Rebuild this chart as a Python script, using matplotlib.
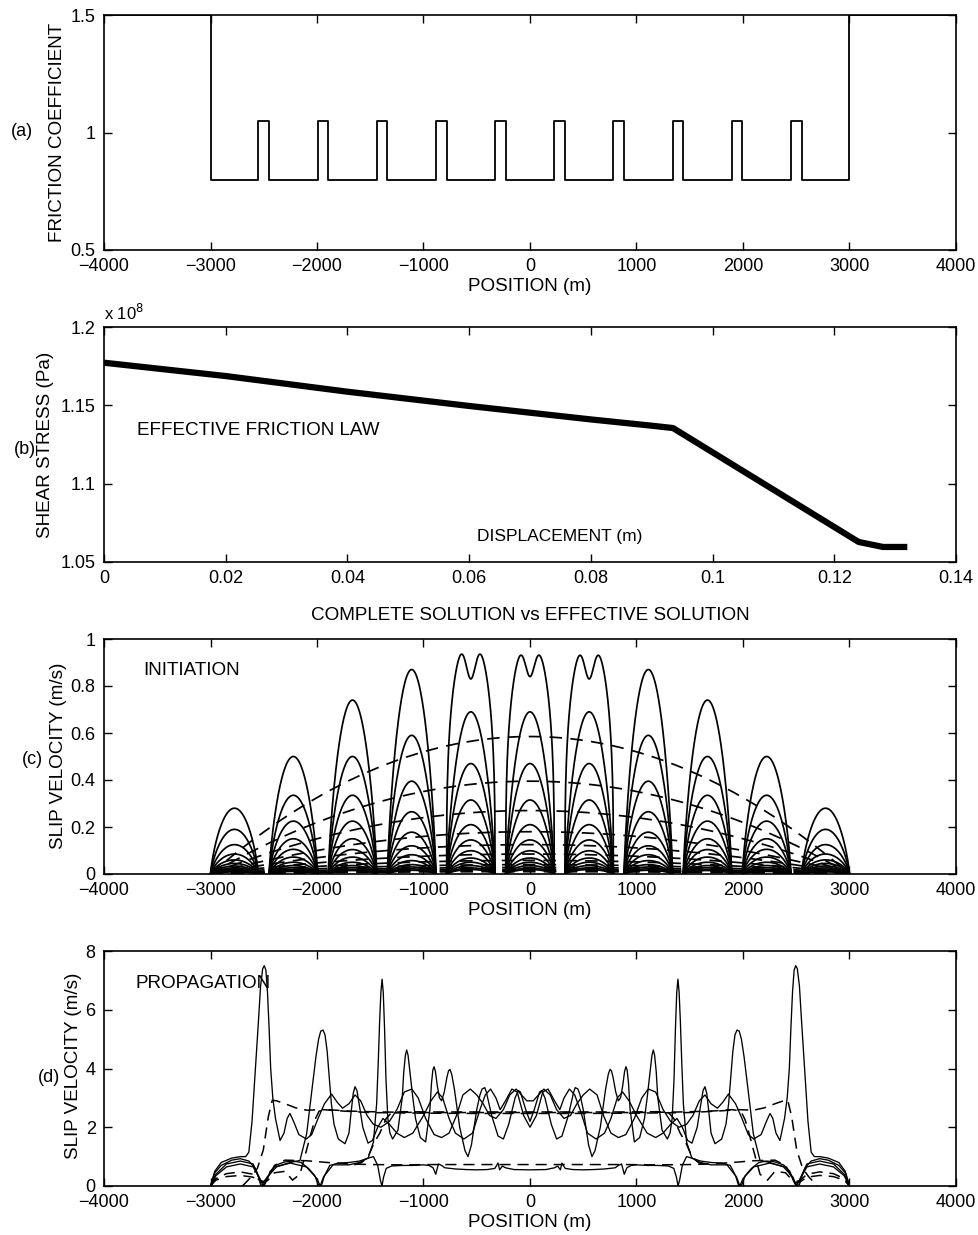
import numpy as np
import matplotlib
matplotlib.use("Agg")
import matplotlib.pyplot as plt

plt.rcParams['font.family'] = ['Liberation Sans', 'DejaVu Sans']
plt.rcParams['lines.scale_dashes'] = False
plt.rcParams['axes.linewidth'] = 1.2

FS = 13
FSL = 13.6

# ---------------- data ----------------
# (a) friction coefficient
POS_TICKS = [-4000, -3000, -2000, -1000, 0, 1000, 2000, 3000, 4000]
FAULT_EDGES = [-3000, 3000]
BUMP_CENTERS = [-2500, -1944, -1389, -833, -278, 278, 833, 1389, 1944, 2500]
BUMP_WIDTH = 100
MU_BASE = 0.8
MU_BUMP = 1.05
MU_OUT = 1.5

# (b) effective friction law
B_DISP = [0.0, 0.02, 0.04, 0.06, 0.08, 0.09, 0.0935, 0.124, 0.128, 0.132]
B_STRESS = [1.1772, 1.1687, 1.1587, 1.1496, 1.1410, 1.1370, 1.1355, 1.0628, 1.0596, 1.0596]  # x 1e8 Pa
B_XTICKS = [0, 0.02, 0.04, 0.06, 0.08, 0.1, 0.12, 0.14]
B_XLABELS = ['0', '0.02', '0.04', '0.06', '0.08', '0.1', '0.12', '0.14']
B_YTICKS = [1.05, 1.1, 1.15, 1.2]
B_YLABELS = ['1.05', '1.1', '1.15', '1.2']

# (c) initiation: peak slip velocity of each snapshot on each of the 11 patches
C_SOLID_PEAKS = [
    [0.28, 0.50, 0.74, 0.87, 0.935, 0.93, 0.93, 0.87, 0.74, 0.50, 0.28],
    [0.19, 0.335, 0.50, 0.59, 0.69, 0.69, 0.69, 0.59, 0.50, 0.335, 0.19],
    [0.125, 0.225, 0.335, 0.395, 0.47, 0.47, 0.47, 0.395, 0.335, 0.225, 0.125],
    [0.085, 0.15, 0.225, 0.265, 0.315, 0.315, 0.315, 0.265, 0.225, 0.15, 0.085],
    [0.06, 0.105, 0.15, 0.178, 0.21, 0.21, 0.21, 0.178, 0.15, 0.105, 0.06],
    [0.045, 0.072, 0.104, 0.12, 0.145, 0.145, 0.145, 0.12, 0.104, 0.072, 0.045],
    [0.034, 0.05, 0.072, 0.082, 0.099, 0.099, 0.099, 0.082, 0.072, 0.05, 0.034],
    [0.026, 0.036, 0.05, 0.057, 0.068, 0.068, 0.068, 0.057, 0.05, 0.036, 0.026],
    [0.02, 0.027, 0.036, 0.04, 0.05, 0.05, 0.05, 0.04, 0.036, 0.027, 0.02],
    [0.016, 0.02, 0.027, 0.03, 0.036, 0.036, 0.036, 0.03, 0.027, 0.02, 0.016],
    [0.012, 0.015, 0.02, 0.022, 0.026, 0.026, 0.026, 0.022, 0.02, 0.015, 0.012],
    [0.009, 0.011, 0.015, 0.016, 0.019, 0.019, 0.019, 0.016, 0.015, 0.011, 0.009],
]
C_DOUBLE_PATCHES = [4, 5, 6]          # patches whose last snapshot is double-peaked
C_DIP_VALUES = [0.83, 0.84, 0.83]     # central dip of those snapshots
C_DASHED_PEAKS = [0.585, 0.395, 0.27, 0.18, 0.125, 0.085, 0.058, 0.04, 0.028, 0.02, 0.014, 0.01]
C_YTICKS = [0, 0.2, 0.4, 0.6, 0.8, 1]
C_YLABELS = ['0', '0.2', '0.4', '0.6', '0.8', '1']

# (d) propagation: left half (x <= 0) of each symmetric snapshot
D_SOLID = [
    ([-3000, -2960, -2900, -2800, -2720, -2640, -2580, -2550, -2530, -2500, -2470, -2440, -2380, -2300,
      -2220, -2150, -2080, -2020, -1990, -1960, -1930, -1880, -1800, -1700, -1600, -1520, -1470, -1430,
      -1405, -1390, -1375, -1350, -1300, -1200, -1100, -1000, -950, -910, -885, -860, -830, -800, -700,
      -600, -500, -400, -330, -300, -285, -260, -230, -150, 0],
     [0, 0.45, 0.7, 0.88, 0.93, 0.85, 0.6, 0.3, 0.05, 0, 0.2, 0.5, 0.72, 0.82, 0.85, 0.8, 0.6, 0.35,
      0.05, 0, 0.35, 0.7, 0.78, 0.8, 0.85, 0.95, 1.0, 0.7, 0.2, 0, 0.3, 0.6, 0.68, 0.7, 0.7, 0.72, 0.7,
      0.62, 0.4, 0.75, 0.7, 0.62, 0.58, 0.56, 0.55, 0.56, 0.6, 0.78, 0.55, 0.68, 0.62, 0.56, 0.55]),
    ([-3000, -2950, -2850, -2720, -2600, -2530, -2500, -2470, -2400, -2250, -2100, -2000, -1970, -1940,
      -1850, -1700, -1600, -1520, -1470, -1440, -1425, -1412, -1400, -1389, -1378, -1366, -1352, -1335,
      -1315, -1290, -1240, -1200, -1185, -1170, -1158, -1145, -1125, -1100, -1075, -1030, -980, -940,
      -925, -912, -901, -888, -870, -850, -830, -805, -780, -765, -751, -735, -710, -660, -610, -582,
      -550, -500, -470, -450, -425, -410, -360, -300, -250, -200, -160, -140, -110, -90, -40, 0],
     [0, 0.4, 0.75, 0.85, 0.75, 0.2, 0, 0.25, 0.65, 0.78, 0.65, 0.25, 0, 0.3, 0.72, 0.72, 0.8, 0.95,
      1.5, 2.8, 4.2, 5.6, 6.6, 7.04, 6.6, 5.4, 3.6, 2.3, 1.8, 1.6, 1.9, 3.0, 3.9, 4.45, 4.63, 4.45, 3.8,
      3.0, 2.3, 1.65, 1.5, 2.6, 3.5, 3.95, 4.06, 3.9, 3.4, 3.0, 2.9, 3.2, 3.7, 3.92, 3.97, 3.8, 3.3,
      2.0, 1.2, 1.0, 1.4, 2.6, 3.1, 3.3, 3.35, 3.2, 2.4, 1.7, 1.6, 2.1, 2.7, 3.0, 3.25, 3.2, 2.6, 2.2]),
    ([-3000, -2950, -2850, -2720, -2600, -2530, -2500, -2470, -2380, -2250, -2160, -2097, -2050, -2010,
      -1985, -1965, -1944, -1925, -1905, -1885, -1865, -1840, -1800, -1737, -1700, -1680, -1660, -1643,
      -1625, -1600, -1570, -1521, -1480, -1430, -1380, -1320, -1250, -1180, -1100, -1000, -930, -870,
      -820, -760, -700, -620, -540, -470, -420, -370, -320, -280, -230, -170, -120, -60, 0],
     [0, 0.35, 0.65, 0.75, 0.65, 0.2, 0, 0.3, 0.65, 0.8, 0.87, 1.78, 3.2, 4.4, 5.0, 5.27, 5.31, 5.15,
      4.6, 3.7, 2.8, 2.1, 1.6, 1.44, 1.8, 2.5, 3.15, 3.38, 3.25, 2.7, 2.0, 1.46, 1.55, 2.0, 2.3, 2.1,
      1.8, 1.65, 1.8, 2.4, 2.9, 3.2, 3.0, 2.3, 1.8, 1.6, 1.8, 2.6, 3.1, 3.3, 3.0, 2.6, 2.9, 3.3, 3.2,
      2.4, 2.0]),
    ([-3000, -2960, -2900, -2800, -2720, -2670, -2640, -2610, -2580, -2550, -2530, -2510, -2495, -2480,
      -2465, -2450, -2435, -2415, -2390, -2347, -2310, -2280, -2254, -2220, -2170, -2100, -2050, -1990,
      -1930, -1863, -1810, -1760, -1700, -1643, -1590, -1530, -1470, -1400, -1320, -1250, -1180, -1110,
      -1050, -980, -900, -830, -760, -690, -630, -560, -500, -440, -380, -320, -250, -190, -130, -80,
      -30, 0],
     [0, 0.5, 0.8, 0.95, 1.0, 1.0, 1.15, 2.2, 3.9, 5.6, 6.8, 7.4, 7.5, 7.35, 6.6, 5.4, 4.0, 3.0, 2.3,
      1.55, 1.8, 2.3, 2.47, 2.2, 1.75, 1.6, 1.75, 2.3, 2.8, 3.13, 2.85, 2.65, 2.8, 3.1, 2.9, 2.4, 2.1,
      2.0, 2.2, 2.6, 3.2, 3.3, 3.0, 2.3, 1.75, 1.65, 1.8, 2.4, 3.1, 3.3, 3.1, 2.8, 2.4, 2.3, 2.6, 3.1,
      3.3, 3.1, 2.9, 2.9]),
]
D_DASHED = [
    ([-3000, -2950, -2850, -2720, -2600, -2540, -2500, -2450, -2400, -2300, -2100, -1900, -1700, -1500,
      -1200, -900, -600, -300, 0],
     [0, 0.25, 0.42, 0.48, 0.4, 0.2, 0.15, 0.35, 0.7, 0.88, 0.86, 0.8, 0.75, 0.73, 0.72, 0.73, 0.73,
      0.73, 0.73]),
    ([-3000, -2950, -2850, -2720, -2600, -2540, -2500, -2460, -2400, -2300, -2230, -2160, -2100, -2060,
      -2020, -1980, -1900, -1700, -1400, -1000, -500, 0],
     [0, 0.2, 0.32, 0.36, 0.3, 0.15, 0.1, 0.2, 0.45, 0.5, 0.2, 0.4, 1.2, 1.75, 2.25, 2.55, 2.6, 2.55,
      2.52, 2.5, 2.5, 2.5]),
    ([-2700, -2620, -2560, -2504, -2457, -2420, -2380, -2300, -2200, -2097, -1950, -1800, -1500, -1000,
      -500, 0],
     [0, 0.3, 0.6, 1.23, 2.36, 2.92, 2.9, 2.8, 2.66, 2.58, 2.6, 2.56, 2.5, 2.48, 2.47, 2.47]),
    ([-1650, -1580, -1520, -1460, -1410, -1350, -1300, -1200, -900, -500, 0],
     [0.72, 0.8, 1.0, 1.5, 1.8, 2.3, 2.5, 2.53, 2.52, 2.52, 2.52]),
]
D_YTICKS = [0, 2, 4, 6, 8]


# ---------------- helpers ----------------
def style_axes(ax):
    ax.tick_params(direction='in', length=6, width=1.0, top=True, right=True,
                   labelsize=FS, pad=6)
    for s in ax.spines.values():
        s.set_linewidth(1.2)


def mirror(xl, yl):
    xl = np.asarray(xl, float)
    yl = np.asarray(yl, float)
    return np.concatenate([xl, -xl[::-1][1:]]), np.concatenate([yl, yl[::-1][1:]])


def pos_labels(vals):
    return [str(v).replace('-', '\u2212') for v in vals]


# patches between barriers
bump_lo = [c - BUMP_WIDTH / 2 for c in BUMP_CENTERS]
bump_hi = [c + BUMP_WIDTH / 2 for c in BUMP_CENTERS]
patch_a = [FAULT_EDGES[0]] + bump_hi
patch_b = bump_lo + [FAULT_EDGES[1]]

fig = plt.figure(figsize=(9.79, 12.35), dpi=100)
L, W, H = 104 / 979, 852 / 979, 235 / 1235
axa = fig.add_axes([L, 1 - 250 / 1235, W, H])
axb = fig.add_axes([L, 1 - 562 / 1235, W, H])
axc = fig.add_axes([L, 1 - 874 / 1235, W, H])
axd = fig.add_axes([L, 1 - 1186 / 1235, W, H])

# ---------------- (a) ----------------
xs = [-4000, FAULT_EDGES[0], FAULT_EDGES[0]]
ys = [MU_OUT, MU_OUT, MU_BASE]
for lo, hi in zip(bump_lo, bump_hi):
    xs += [lo, lo, hi, hi]
    ys += [MU_BASE, MU_BUMP, MU_BUMP, MU_BASE]
xs += [FAULT_EDGES[1], FAULT_EDGES[1], 4000]
ys += [MU_BASE, MU_OUT, MU_OUT]
axa.plot(xs, ys, color='black', lw=1.3)
axa.set_xlim(-4000, 4000)
axa.set_ylim(0.5, 1.5)
axa.set_xticks(POS_TICKS)
axa.set_xticklabels(pos_labels(POS_TICKS))
axa.set_yticks([0.5, 1, 1.5])
axa.set_yticklabels(['0.5', '1', '1.5'])
style_axes(axa)
axa.set_xlabel('POSITION (m)', fontsize=FSL, labelpad=2)
fig.text(58 / 979, 1 - 132 / 1235, 'FRICTION COEFFICIENT', rotation=90, fontsize=FSL,
         ha='center', va='center')
fig.text(22 / 979, 1 - 132 / 1235, '(a)', fontsize=FS, ha='center', va='center')

# ---------------- (b) ----------------
axb.plot(B_DISP, B_STRESS, color='black', lw=4.5, solid_capstyle='butt')
axb.set_xlim(0, 0.14)
axb.set_ylim(1.05, 1.2)
axb.set_xticks(B_XTICKS)
axb.set_xticklabels(B_XLABELS)
axb.set_yticks(B_YTICKS)
axb.set_yticklabels(B_YLABELS)
style_axes(axb)
axb.text(0.0, 1.015, r'x 10$^{8}$', transform=axb.transAxes, fontsize=FS - 1,
         ha='left', va='bottom')
axb.text(0.0054, 1.134, 'EFFECTIVE FRICTION LAW', fontsize=FSL, ha='left', va='center')
axb.text(0.0749, 1.066, 'DISPLACEMENT (m)', fontsize=FS - 0.5, ha='center', va='center')
fig.text(46 / 979, 1 - 445 / 1235, 'SHEAR STRESS (Pa)', rotation=90, fontsize=FSL,
         ha='center', va='center')
fig.text(25 / 979, 1 - 450 / 1235, '(b)', fontsize=FS, ha='center', va='center')

# ---------------- (c) ----------------
for k, snap in enumerate(C_SOLID_PEAKS):
    for j, (a, b) in enumerate(zip(patch_a, patch_b)):
        x = np.linspace(a, b, 200)
        u = (x - (a + b) / 2) / ((b - a) / 2)
        base = np.clip(1 - u ** 2, 0, None)
        h = snap[j]
        if k == 0 and j in C_DOUBLE_PATCHES:
            dip = C_DIP_VALUES[C_DOUBLE_PATCHES.index(j)]
            D = (h - 0.941 * dip) / 0.811
            P = dip + D
            y = P * base ** 0.35 - D * np.exp(-(u / 0.28) ** 2)
            y[0] = 0
            y[-1] = 0
        else:
            y = h * base ** 0.8
        axc.plot(x, y, color='black', lw=1.25)
xx = np.linspace(FAULT_EDGES[0], FAULT_EDGES[1], 600)
uu = xx / FAULT_EDGES[1]
for amp in C_DASHED_PEAKS:
    axc.plot(xx, amp * (1 - uu ** 2), color='black', lw=1.25, dashes=(9, 6))
axc.set_xlim(-4000, 4000)
axc.set_ylim(0, 1)
axc.set_xticks(POS_TICKS)
axc.set_xticklabels(pos_labels(POS_TICKS))
axc.set_yticks(C_YTICKS)
axc.set_yticklabels(C_YLABELS)
style_axes(axc)
axc.set_xlabel('POSITION (m)', fontsize=FSL, labelpad=2)
axc.set_title('COMPLETE SOLUTION vs EFFECTIVE SOLUTION', fontsize=FSL, pad=14)
axc.text(-3630, 0.865, 'INITIATION', fontsize=FSL, ha='left', va='center')
fig.text(59 / 979, 1 - 756 / 1235, 'SLIP VELOCITY (m/s)', rotation=90, fontsize=FSL,
         ha='center', va='center')
fig.text(32 / 979, 1 - 760 / 1235, '(c)', fontsize=FS, ha='center', va='center')

# ---------------- (d) ----------------
for xl, yl in D_SOLID:
    x, y = mirror(xl, yl)
    axd.plot(x, y, color='black', lw=0.95)
for xl, yl in D_DASHED:
    x, y = mirror(xl, yl)
    axd.plot(x, y, color='black', lw=1.1, dashes=(8, 5))
axd.set_xlim(-4000, 4000)
axd.set_ylim(0, 8)
axd.set_xticks(POS_TICKS)
axd.set_xticklabels(pos_labels(POS_TICKS))
axd.set_yticks(D_YTICKS)
style_axes(axd)
axd.set_xlabel('POSITION (m)', fontsize=FSL, labelpad=2)
axd.text(-3700, 6.9, 'PROPAGATION', fontsize=FSL, ha='left', va='center')
fig.text(74 / 979, 1 - 1066 / 1235, 'SLIP VELOCITY (m/s)', rotation=90, fontsize=FSL,
         ha='center', va='center')
fig.text(49 / 979, 1 - 1077 / 1235, '(d)', fontsize=FS, ha='center', va='center')

fig.savefig('out.png', dpi=100)
